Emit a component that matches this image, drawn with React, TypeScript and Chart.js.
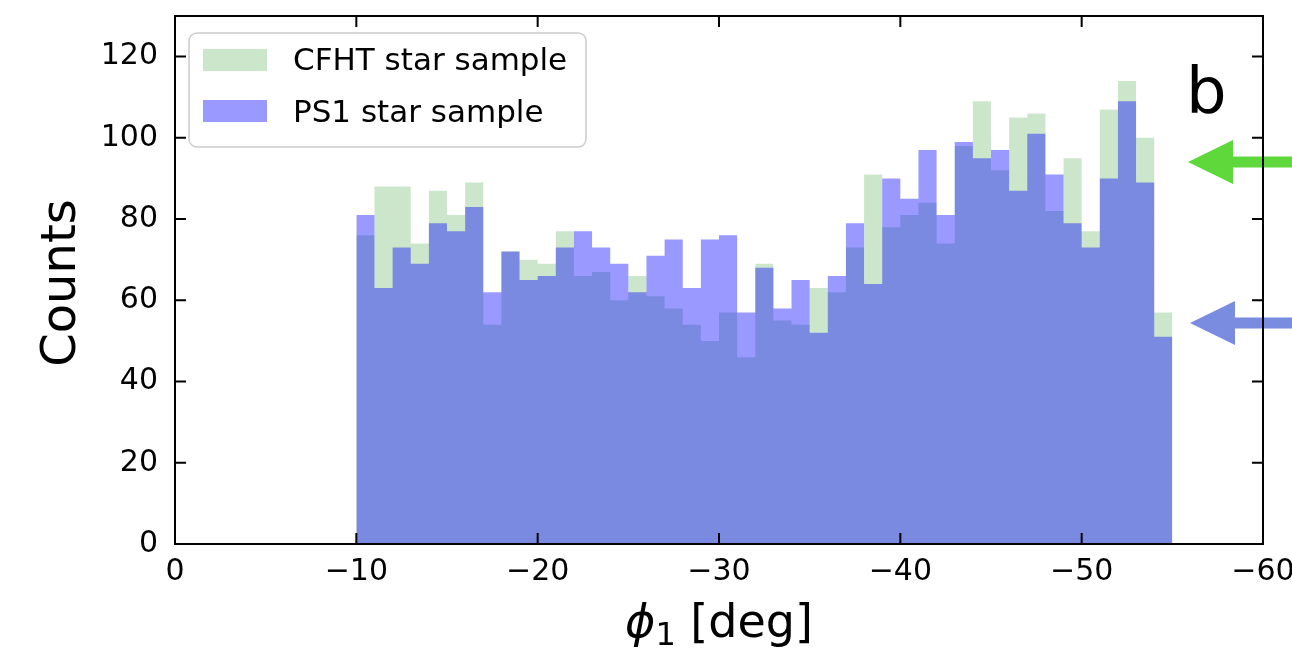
import React, { useEffect, useRef } from 'react';
import { Chart, registerables } from 'chart.js';

Chart.register(...registerables);

// Bin left edges (deg), 45 bins of 1 deg from -10 to -55
const BIN_EDGES = [
  -10, -11, -12, -13, -14, -15, -16, -17, -18, -19, -20, -21, -22, -23, -24, -25,
  -26, -27, -28, -29, -30, -31, -32, -33, -34, -35, -36, -37, -38, -39, -40, -41,
  -42, -43, -44, -45, -46, -47, -48, -49, -50, -51, -52, -53, -54, -55,
];

const CFHT_COUNTS = [
  76, 88, 88, 74, 87, 81, 89, 54, 72, 70,
  69, 77, 66, 67, 60, 66, 61, 58, 54, 50,
  57, 46, 69, 55, 54, 63, 62, 73, 91, 78,
  81, 84, 74, 98, 109, 92, 105, 106, 82, 95,
  77, 107, 114, 100, 57,
];

const PS1_COUNTS = [
  81, 63, 73, 69, 79, 77, 83, 62, 72, 65,
  66, 73, 77, 73, 69, 62, 71, 75, 63, 75,
  76, 57, 68, 58, 65, 52, 66, 79, 64, 90,
  85, 97, 81, 99, 95, 97, 87, 101, 91, 79,
  73, 90, 109, 89, 51,
];

const X_TICKS = [0, -10, -20, -30, -40, -50, -60];
const Y_TICKS = [0, 20, 40, 60, 80, 100, 120];
const SERIES_LABELS = ['CFHT star sample', 'PS1 star sample'];
const Y_TITLE = 'Counts';
const PANEL_LABEL = 'b';

const CFHT_COLOR = 'rgba(0,128,0,0.2)';
const PS1_COLOR = 'rgba(0,0,255,0.4)';
const FONT = 'DejaVu Sans';

function stepPoints(counts: number[]) {
  const pts = counts.map((c, i) => ({ x: BIN_EDGES[i], y: c }));
  pts.push({ x: BIN_EDGES[counts.length], y: counts[counts.length - 1] });
  return pts;
}

function drawArrow(ctx: CanvasRenderingContext2D, tipX: number, y: number, headLen: number, headHalf: number, shaft: number, endX: number, color: string) {
  ctx.save();
  ctx.fillStyle = color;
  ctx.beginPath();
  ctx.moveTo(tipX, y);
  ctx.lineTo(tipX + headLen, y - headHalf);
  ctx.lineTo(tipX + headLen, y + headHalf);
  ctx.closePath();
  ctx.fill();
  ctx.fillRect(tipX + headLen - 1, y - shaft / 2, endX - (tipX + headLen - 1), shaft);
  ctx.restore();
}

const decorPlugin = {
  id: 'decor',
  afterDraw(chart: any) {
    const { ctx, chartArea } = chart;
    const xs = chart.scales.x;
    const ys = chart.scales.y;
    const { left, right, top, bottom } = chartArea;

    // arrows (right side annotations)
    drawArrow(ctx, 1188, 162, 45, 22, 11, 1292, '#5fd83c');
    drawArrow(ctx, 1190, 323, 45, 22, 11, 1292, '#7a8ce0');

    // inward ticks
    ctx.save();
    ctx.strokeStyle = '#000';
    ctx.lineWidth = 2;
    const tl = 11;
    ctx.beginPath();
    for (const v of X_TICKS) {
      const px = xs.getPixelForValue(v);
      ctx.moveTo(px, bottom);
      ctx.lineTo(px, bottom - tl);
      ctx.moveTo(px, top);
      ctx.lineTo(px, top + tl);
    }
    for (const v of Y_TICKS) {
      const py = ys.getPixelForValue(v);
      ctx.moveTo(left, py);
      ctx.lineTo(left + tl, py);
      ctx.moveTo(right, py);
      ctx.lineTo(right - tl, py);
    }
    ctx.stroke();
    // frame
    ctx.lineWidth = 2;
    ctx.strokeRect(left, top, right - left, bottom - top);
    ctx.restore();

    // legend
    ctx.save();
    const lx = 189, ly = 33, lw = 397, lh = 114, r = 8;
    ctx.beginPath();
    ctx.moveTo(lx + r, ly);
    ctx.arcTo(lx + lw, ly, lx + lw, ly + lh, r);
    ctx.arcTo(lx + lw, ly + lh, lx, ly + lh, r);
    ctx.arcTo(lx, ly + lh, lx, ly, r);
    ctx.arcTo(lx, ly, lx + lw, ly, r);
    ctx.closePath();
    ctx.fillStyle = 'rgba(255,255,255,0.8)';
    ctx.fill();
    ctx.strokeStyle = '#cccccc';
    ctx.lineWidth = 1.5;
    ctx.stroke();
    ctx.fillStyle = CFHT_COLOR;
    ctx.fillRect(203, 49, 64, 22);
    ctx.fillStyle = PS1_COLOR;
    ctx.fillRect(203, 100, 64, 22);
    ctx.fillStyle = '#000';
    ctx.font = `31px "${FONT}"`;
    ctx.textAlign = 'left';
    ctx.textBaseline = 'alphabetic';
    ctx.fillText(SERIES_LABELS[0], 293, 70);
    ctx.fillText(SERIES_LABELS[1], 293, 122);
    ctx.restore();

    // panel label
    ctx.save();
    ctx.fillStyle = '#000';
    ctx.font = `64px "${FONT}"`;
    ctx.textAlign = 'left';
    ctx.textBaseline = 'alphabetic';
    ctx.fillText(PANEL_LABEL, 1186, 113);
    ctx.restore();

    // y title
    ctx.save();
    ctx.fillStyle = '#000';
    ctx.font = `48px "${FONT}"`;
    ctx.translate(75, 283);
    ctx.rotate(-Math.PI / 2);
    ctx.textAlign = 'center';
    ctx.textBaseline = 'alphabetic';
    ctx.fillText(Y_TITLE, 0, 0);
    ctx.restore();

    // x title: phi_1 [deg]
    ctx.save();
    ctx.fillStyle = '#000';
    ctx.textBaseline = 'alphabetic';
    ctx.textAlign = 'left';
    const bigF = `46px "${FONT}"`;
    const phiF = `italic 46px "${FONT}"`;
    const subF = `32px "${FONT}"`;
    ctx.font = phiF;
    const wPhi = ctx.measureText('\u03D5').width;
    ctx.font = subF;
    const wSub = ctx.measureText('1').width;
    ctx.font = bigF;
    const wRest = ctx.measureText(' [deg]').width;
    const total = wPhi + wSub + wRest;
    let x0 = (left + right) / 2 - total / 2;
    const base = 637;
    ctx.font = phiF;
    ctx.fillText('\u03D5', x0, base);
    x0 += wPhi;
    ctx.font = subF;
    ctx.fillText('1', x0, base + 8);
    x0 += wSub;
    ctx.font = bigF;
    ctx.fillText(' [deg]', x0, base);
    ctx.restore();
  },
};

export default function App() {
  const canvasRef = useRef<HTMLCanvasElement | null>(null);

  useEffect(() => {
    if (!canvasRef.current) return;
    const chart = new Chart(canvasRef.current, {
      type: 'line',
      data: {
        datasets: [
          {
            label: SERIES_LABELS[0],
            data: stepPoints(CFHT_COUNTS),
            stepped: 'before',
            fill: 'origin',
            backgroundColor: CFHT_COLOR,
            borderColor: 'transparent',
            borderWidth: 0,
            pointRadius: 0,
            order: 2,
          },
          {
            label: SERIES_LABELS[1],
            data: stepPoints(PS1_COUNTS),
            stepped: 'before',
            fill: 'origin',
            backgroundColor: PS1_COLOR,
            borderColor: 'transparent',
            borderWidth: 0,
            pointRadius: 0,
            order: 1,
          },
        ],
      },
      options: {
        animation: false,
        responsive: true,
        maintainAspectRatio: false,
        devicePixelRatio: 1,
        layout: { padding: { left: 0, right: 29, top: 16, bottom: 0 } },
        plugins: {
          legend: { display: false },
          tooltip: { enabled: false },
        },
        scales: {
          x: {
            type: 'linear',
            min: -60,
            max: 0,
            reverse: true,
            grid: { display: false, drawTicks: false },
            border: { display: false },
            ticks: {
              stepSize: 10,
              padding: 10,
              color: '#000',
              font: { family: FONT, size: 30 },
              maxRotation: 0,
              callback: (v: any) => (Number(v) === 0 ? '0' : '\u2212' + Math.abs(Number(v))),
            },
            afterFit: (scale: any) => {
              scale.height = 110;
              scale.paddingLeft = 0;
              scale.paddingRight = 0;
            },
          },
          y: {
            type: 'linear',
            min: 0,
            max: 130,
            grid: { display: false, drawTicks: false },
            border: { display: false },
            ticks: {
              stepSize: 20,
              includeBounds: false,
              padding: 17,
              color: '#000',
              font: { family: FONT, size: 30 },
            },
            afterFit: (scale: any) => {
              scale.width = 175;
              scale.paddingTop = 0;
              scale.paddingBottom = 0;
            },
          },
        },
      },
      plugins: [decorPlugin],
    });
    return () => chart.destroy();
  }, []);

  return (
    <div style={{ position: 'fixed', left: 0, top: 0, width: 1292, height: 654, background: '#fff' }}>
      <canvas ref={canvasRef} />
    </div>
  );
}
